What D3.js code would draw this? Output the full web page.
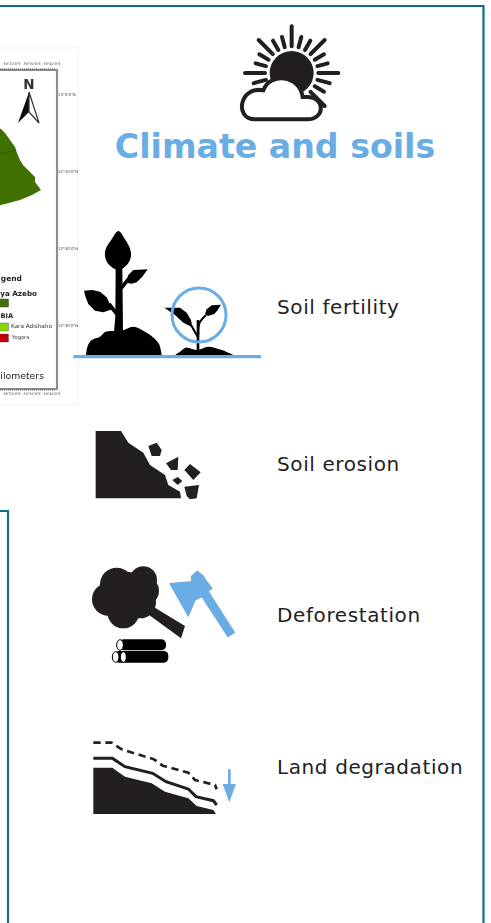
<!DOCTYPE html>
<html>
<head>
<meta charset="utf-8">
<script src="https://cdn.jsdelivr.net/npm/d3@7"></script>
<style>
html,body{margin:0;padding:0;background:#fff;overflow:hidden}
svg{display:block}
text{font-family:"DejaVu Sans",sans-serif}
</style>
</head>
<body>
<svg id="chart"></svg>
<script>
var screen2 = {width:491,height:923}

// text content
var title = "Climate and soils"
var impacts = ["Soil fertility","Soil erosion","Deforestation","Land degradation"]
// the map is cropped by the page edge, only these parts of its legend show
var legendTitle = "gend"
var legendGroups = ["ya Azebo","BIA"]
var legendItems = ["Kara Adishaho","Yogora"]
var scaleUnit = "ilometers"
var mapLatLabels = ["13°0'0\"N","12°50'0\"N","12°40'0\"N","12°30'0\"N"]
var mapLonLabels = ["39°20'0\"E","39°30'0\"E","39°40'0\"E"]

var blue = "#6aade4"
var ink = "#231f20"
var frame = "#136a8f"

var svg = d3.select("#chart")
  .attr("width",screen2.width)
  .attr("height",screen2.height)

var defs = svg.append("defs")
defs.append("filter").attr("id","soft").append("feGaussianBlur").attr("stdDeviation",0.6)

var straight = d3.line().curve(d3.curveLinearClosed)
var smooth = d3.line().curve(d3.curveCatmullRomClosed.alpha(0.5))
var open = d3.line()
var bend = d3.line().curve(d3.curveCatmullRom.alpha(0.5))

// icon outlines are traced in 3x crop pixels, so every icon sits in a group scaled by a third
var icon = function(x,y)
{
    return svg.append("g").attr("transform","translate("+x+","+y+") scale("+(1/3)+")")
}
var fillShape = function(g,gen,points,color)
{
    return g.append("path").attr("d",gen(points)).attr("fill",color)
}
var mound = function(g,points,color)
{
    return g.append("path").attr("d",bend(points)+"Z").attr("fill",color)
}

//page frames
svg.append("path")
  .attr("d",open([[0,6],[483.5,6],[483.5,923]]))
  .attr("fill","none").attr("stroke",frame).attr("stroke-width",2.2)
svg.append("path")
  .attr("d",open([[0,511],[8,511],[8,923]]))
  .attr("fill","none").attr("stroke",frame).attr("stroke-width",2.2)

//map
var drawMap = function()
{
    var map = svg.append("g").attr("filter","url(#soft)")
    map.append("rect").attr("x",-3).attr("y",48).attr("width",81).attr("height",357)
      .attr("fill","#fff").attr("stroke","#f0f0f0")
    map.append("path")
      .attr("d",open([[-2,70],[57,70],[57,389],[-2,389]]))
      .attr("fill","none").attr("stroke","#8f8f8f").attr("stroke-width",2.2)
    map.append("path")
      .attr("d",open([[-2,69],[55,69]]))
      .attr("fill","none").attr("stroke","#555").attr("stroke-width",1.2).attr("stroke-dasharray","1 1")
    map.append("path")
      .attr("d",open([[-2,390],[55,390]]))
      .attr("fill","none").attr("stroke","#555").attr("stroke-width",1.2).attr("stroke-dasharray","1 1")

    fillShape(map,straight,[[-3,127],[1,129],[5,133],[10,140],[15,147],[17,153],[20,160],[23,165],[29,171],[35,177],[35,182],[41,190],[32,195],[20,200],[-3,206]],"#3f7000")
    map.append("path").attr("d",open([[-3,154],[8,152],[16,150]])).attr("fill","none").attr("stroke","#2f5500").attr("stroke-width",0.7)

    // north arrow
    map.append("text").attr("x",29).attr("y",88.5).attr("text-anchor","middle")
      .attr("font-size",13.5).attr("font-weight","bold").attr("fill","#333").text("N")
    fillShape(map,straight,[[29,92],[18,123],[29,112]],"#111")
    map.append("path").attr("d",straight([[29,92],[39,123],[29,112]]))
      .attr("fill","#fff").attr("stroke","#333").attr("stroke-width",1.2)

    // graticule labels
    var latScale = d3.scalePoint().domain(mapLatLabels).range([96,327])
    map.selectAll(".lat").data(mapLatLabels).enter().append("text").attr("class","lat")
      .attr("x",58).attr("y",function(d){return latScale(d)})
      .attr("font-size",3.9).attr("fill","#444").text(function(d){return d})
    var lonScale = d3.scalePoint().domain(mapLonLabels).range([12,52])
    ;[65,395].forEach(function(y){
        map.selectAll(".lon"+y).data(mapLonLabels).enter().append("text").attr("class","lon"+y)
          .attr("x",function(d){return lonScale(d)}).attr("y",y).attr("text-anchor","middle")
          .attr("font-size",3.5).attr("fill","#444").text(function(d){return d})
    })

    // legend
    map.append("text").attr("x",22).attr("y",281).attr("text-anchor","end")
      .attr("font-size",7.5).attr("font-weight","bold").attr("fill","#222").text(legendTitle)
    map.append("text").attr("x",37).attr("y",296).attr("text-anchor","end")
      .attr("font-size",7.2).attr("font-weight","bold").attr("fill","#222").text(legendGroups[0])
    map.append("rect").attr("x",-2).attr("y",299).attr("width",10.5).attr("height",8).attr("fill","#3f7000").attr("stroke","#333").attr("stroke-width",0.4)
    map.append("text").attr("x",13).attr("y",318).attr("text-anchor","end")
      .attr("font-size",6.6).attr("font-weight","bold").attr("fill","#222").text(legendGroups[1])
    map.append("rect").attr("x",-2).attr("y",323).attr("width",10.5).attr("height",8).attr("fill","#88d800").attr("stroke","#555").attr("stroke-width",0.4)
    map.append("rect").attr("x",-2).attr("y",334).attr("width",10.5).attr("height",8).attr("fill","#c00000").attr("stroke","#555").attr("stroke-width",0.4)
    map.append("text").attr("x",11).attr("y",328).attr("font-size",5.7).attr("fill","#333").text(legendItems[0])
    map.append("text").attr("x",12).attr("y",339).attr("font-size",5.2).attr("fill","#333").text(legendItems[1])
    map.append("text").attr("x",44).attr("y",379).attr("text-anchor","end")
      .attr("font-size",9.3).attr("fill","#222").text(scaleUnit)
}
drawMap()

//sun and cloud
var drawSun = function()
{
    var g = icon(220,15)
    var cx = 215, cy = 174
    var rays = d3.range(-3,14).map(function(i){return i*15})
    rays.forEach(function(a){
        var long = a%45==0
        var r = a*Math.PI/180
        var outer = long?140:(a==-15||a==195?118:112)
        g.append("line")
          .attr("x1",cx+Math.cos(r)*80).attr("y1",cy-Math.sin(r)*80)
          .attr("x2",cx+Math.cos(r)*outer).attr("y2",cy-Math.sin(r)*outer)
          .attr("stroke",ink).attr("stroke-width",12).attr("stroke-linecap","round")
    })
    g.append("circle").attr("cx",cx).attr("cy",cy).attr("r",66).attr("fill",ink)
    g.append("path")
      .attr("d","M105,313 L262,313 C316,313 316,246 262,246 L248,246 C238,178 150,172 130,226 C58,212 42,313 105,313 Z")
      .attr("fill","#fff").attr("stroke",ink).attr("stroke-width",12)
}
drawSun()

svg.append("text").attr("x",275).attr("y",158).attr("text-anchor","middle")
  .attr("font-size",33.2).attr("font-weight","bold").attr("fill",blue).text(title)

//soil fertility icon
var drawPlants = function()
{
    var g = icon(65,220)
    fillShape(g,smooth,[[160,33],[140,58],[122,88],[120,108],[130,132],[160,150],[188,132],[198,108],[195,86],[180,58]],"#000")
    fillShape(g,straight,[[152,140],[172,140],[174,335],[147,335],[151,290]],"#000")
    fillShape(g,straight,[[248,148],[232,170],[215,187],[200,191],[183,188],[190,165],[205,150]],"#000")
    g.append("path").attr("d",open([[168,205],[192,175]])).attr("stroke","#000").attr("stroke-width",11).attr("fill","none")
    fillShape(g,straight,[[57,212],[82,210],[105,215],[125,232],[142,268],[115,277],[90,272],[70,252],[62,232]],"#000")
    g.append("path").attr("d",open([[132,252],[158,285]])).attr("stroke","#000").attr("stroke-width",11).attr("fill","none")
    mound(g,[[63,405],[68,378],[80,360],[105,350],[122,335],[170,332],[205,320],[240,335],[262,350],[282,372],[290,405]],"#000")

    mound(g,[[330,405],[345,395],[362,383],[395,390],[430,380],[470,390],[505,405]],"#000")
    g.append("path").attr("d",open([[399,300],[399,395]])).attr("stroke","#000").attr("stroke-width",8).attr("fill","none")
    fillShape(g,straight,[[298,263],[345,263],[365,278],[378,300],[382,322],[355,308],[330,285]],"#000")
    g.append("path").attr("d",open([[378,315],[398,350]])).attr("stroke","#000").attr("stroke-width",6).attr("fill","none")
    fillShape(g,straight,[[468,254],[440,256],[425,268],[420,282],[428,288],[448,282],[458,270]],"#000")
    g.append("path").attr("d",bend([[400,345],[403,310],[423,285]])).attr("stroke","#000").attr("stroke-width",6).attr("fill","none")

    g.append("circle").attr("cx",402).attr("cy",285).attr("r",81)
      .attr("fill","none").attr("stroke",blue).attr("stroke-width",9)
    g.append("line").attr("x1",29).attr("y1",410).attr("x2",584).attr("y2",410)
      .attr("stroke",blue).attr("stroke-width",10).attr("stroke-linecap","round")
}
drawPlants()

//soil erosion icon
var drawErosion = function()
{
    var g = icon(85,420)
    fillShape(g,straight,[[32,33],[108,33],[130,68],[175,98],[195,135],[240,165],[250,195],[285,215],[288,235],[32,235]],ink)
    var rocks = [
        [[190,78],[215,68],[230,90],[225,108],[200,108]],
        [[243,130],[280,110],[278,150],[258,150]],
        [[298,150],[315,132],[347,157],[325,180]],
        [[262,180],[278,171],[292,183],[278,195]],
        [[298,200],[342,195],[335,235],[315,238],[305,228]]
    ]
    rocks.forEach(function(r){fillShape(g,straight,r,ink)})
}
drawErosion()

//deforestation icon
var drawTree = function()
{
    var g = icon(80,555)
    var blobs = [[110,88,50],[190,75,41],[85,133,49],[130,172,48],[180,142,48],[195,108,42],[140,120,70]]
    g.selectAll(".blob").data(blobs).enter().append("circle").attr("class","blob")
      .attr("cx",function(d){return d[0]}).attr("cy",function(d){return d[1]}).attr("r",function(d){return d[2]})
      .attr("fill",ink)
    fillShape(g,straight,[[215,152],[315,213],[303,250],[200,175]],ink)

    g.append("rect").attr("x",118).attr("y",253).attr("width",140).attr("height",33).attr("rx",14).attr("fill","#000")
    g.append("rect").attr("x",103).attr("y",288).attr("width",162).attr("height",35).attr("rx",14).attr("fill","#000")
    ;[[120,270,10,16],[107,306,10,16],[130,306,9,16]].forEach(function(e){
        g.append("ellipse").attr("cx",e[0]).attr("cy",e[1]).attr("rx",e[2]).attr("ry",e[3])
          .attr("fill","#fff").attr("stroke","#000").attr("stroke-width",3)
    })

    fillShape(g,straight,[[270,86],[335,80],[335,64],[352,49],[370,64],[376,74],[396,100],[384,108],[463,232],[444,245],[366,125],[345,135],[325,183]],blue)
      .attr("stroke",blue).attr("stroke-width",4).attr("stroke-linejoin","round")
}
drawTree()

//land degradation icon
var drawLand = function()
{
    var g = icon(80,730)
    fillShape(g,straight,[[40,113],[97,113],[135,140],[215,160],[255,185],[325,205],[350,228],[400,240],[408,252],[40,252]],ink)
    g.append("path").attr("d",open([[40,85],[97,85],[135,110],[218,130],[258,155],[325,177],[348,200],[400,212],[410,225]]))
      .attr("fill","none").attr("stroke",ink).attr("stroke-width",9)
    g.append("path").attr("d",open([[40,38],[95,38],[105,45],[125,58],[222,88],[248,107],[325,128],[345,150],[405,165],[410,178]]))
      .attr("fill","none").attr("stroke",ink).attr("stroke-width",8).attr("stroke-dasharray","22 14")
    g.append("line").attr("x1",448).attr("y1",118).attr("x2",448).attr("y2",170)
      .attr("stroke",blue).attr("stroke-width",8)
    fillShape(g,straight,[[428,162],[468,162],[448,217]],blue)
}
drawLand()

//impact labels
var rowScale = d3.scaleOrdinal().domain(impacts).range([314,471,622,774])
svg.selectAll(".impact").data(impacts).enter().append("text").attr("class","impact")
  .attr("x",277).attr("y",function(d){return rowScale(d)})
  .attr("font-size",20).attr("letter-spacing",0.6).attr("fill","#222").text(function(d){return d})
</script>
</body>
</html>
